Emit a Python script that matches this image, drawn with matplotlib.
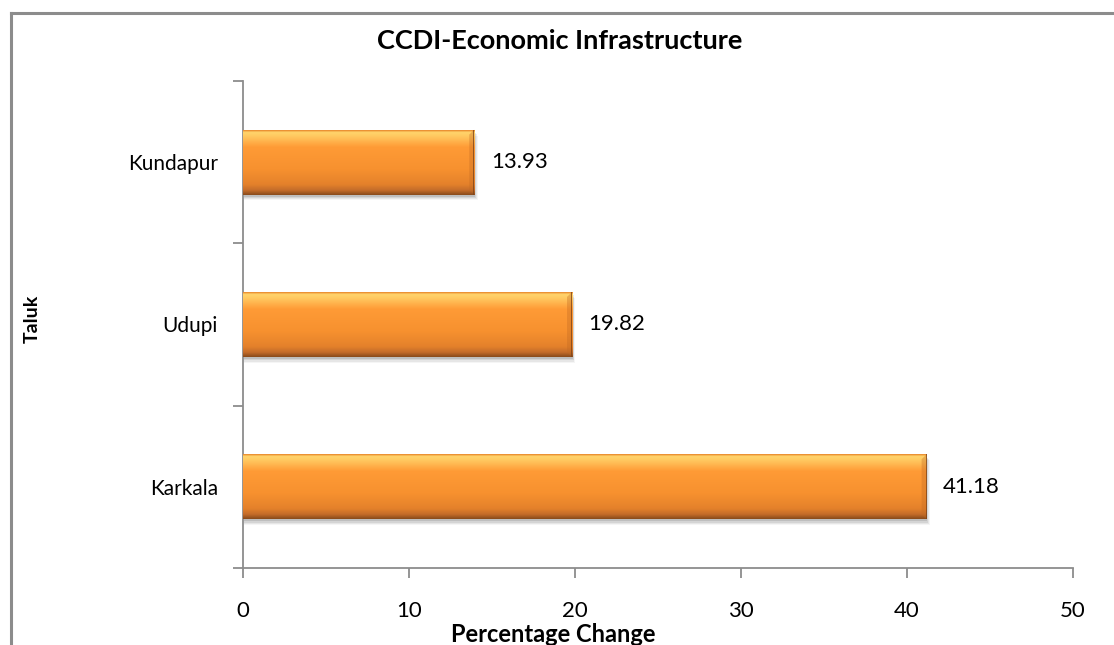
import numpy as np
import matplotlib
matplotlib.use("Agg")
import matplotlib.pyplot as plt
from matplotlib.colors import LinearSegmentedColormap
from matplotlib.lines import Line2D

# Taluk-wise percentage change, economic infrastructure index
taluks = ["Karkala", "Udupi", "Kundapur"]
pct_change = [41.18, 19.82, 13.93]
x_ticks = [0, 10, 20, 30, 40, 50]

plt.rcParams['font.family'] = ['Lato', 'DejaVu Sans']

fig = plt.figure(figsize=(11.14, 6.45), dpi=100)
ax = fig.add_axes([0.2181, 0.1194, 0.7451, 0.755])

# outer chart frame (only left and top edges fall inside the image)
grey = "#8c8c8c"
fig.add_artist(Line2D([0.0095, 0.0095], [0, 0.980], transform=fig.transFigure,
                      color=grey, lw=2.2))
fig.add_artist(Line2D([0.0095, 1.0], [0.980, 0.980], transform=fig.transFigure,
                      color=grey, lw=2.2))

# vertical shading of the bevelled bars, top to bottom
shade = LinearSegmentedColormap.from_list("bevel", [
    (0.00, "#e8862a"),
    (0.03, "#ffd56c"),
    (0.10, "#ffc65e"),
    (0.26, "#ff9b36"),
    (0.60, "#f7912f"),
    (0.84, "#e4812b"),
    (0.93, "#c46c2a"),
    (1.00, "#8a4b1c"),
])
grad = np.linspace(0, 1, 200).reshape(-1, 1)

ypos = np.arange(len(taluks))
bar_h = 0.4
bars = ax.barh(ypos, pct_change, height=bar_h, color="none", edgecolor="none", zorder=3)

for b, v in zip(bars, pct_change):
    x0, y0 = b.get_x(), b.get_y()
    w, h = b.get_width(), b.get_height()
    # soft drop shadow
    for k, a in enumerate([0.10, 0.08, 0.06, 0.04]):
        off = 0.012 + 0.008 * k
        ax.add_patch(plt.Rectangle((x0 + 0.05, y0 - off), w + 0.05 * k, h,
                                   color="#000000", alpha=a, lw=0, zorder=2))
    im = ax.imshow(grad, cmap=shade, aspect="auto", extent=(x0, x0 + w, y0, y0 + h),
                   origin="upper", zorder=3, interpolation="bilinear")
    im.set_clip_path(b)
    # darker right-hand bevel with slanted corners
    bw, bh = 0.3, 0.03
    ax.add_patch(plt.Polygon([(x0 + w - bw, y0 + bh), (x0 + w, y0),
                              (x0 + w, y0 + h), (x0 + w - bw, y0 + h - bh)],
                             closed=True, color="#c26a22", alpha=0.35, lw=0, zorder=4))
    ax.add_patch(plt.Rectangle((x0 + w - 0.06, y0), 0.06, h, color="#7a4218",
                               alpha=0.75, lw=0, zorder=4))
    ax.text(v + 1.0, y0 + h / 2, f"{v:.2f}", va="center", ha="left",
            fontsize=16, color="#000000", zorder=5)

ax.set_xlim(0, 50)
ax.set_ylim(-0.5, 2.5)
ax.set_xticks(x_ticks)
ax.set_yticks([-0.5, 0.5, 1.5, 2.5])
ax.set_yticklabels([])
ax.set_yticks(ypos, minor=True)
ax.set_yticklabels(taluks, minor=True)
ax.tick_params(axis="y", which="minor", length=0, pad=18, labelsize=15)
ax.tick_params(axis="y", which="major", length=7, width=1.3, color=grey)
ax.tick_params(axis="x", length=7, width=1.3, color=grey, pad=17, labelsize=16)

for side in ["top", "right"]:
    ax.spines[side].set_visible(False)
for side in ["left", "bottom"]:
    ax.spines[side].set_color(grey)
    ax.spines[side].set_linewidth(1.3)

fig.text(0.502, 0.936, "CCDI-Economic Infrastructure", fontsize=19.5,
         fontweight="bold", ha="center", va="center")
fig.text(0.497, 0.016, "Percentage Change", fontsize=17, fontweight="bold",
         ha="center", va="center")
fig.text(0.029, 0.505, "Taluk", fontsize=14, fontweight="bold", rotation=90,
         ha="center", va="center")

fig.savefig("out.png", dpi=100)
